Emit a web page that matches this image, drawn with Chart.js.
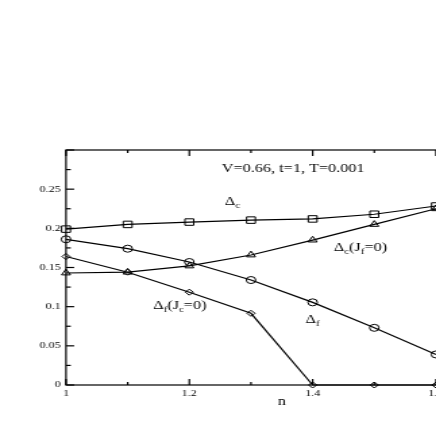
<!DOCTYPE html>
<html><head><meta charset="utf-8">
<script src="https://cdn.jsdelivr.net/npm/chart.js@4.4.1/dist/chart.umd.min.js"></script>
<style>
html,body{margin:0;padding:0;background:#fff;overflow:hidden;width:436px;height:436px;}
#wrap{position:absolute;left:0;top:0;transform:scaleX(1.35);transform-origin:0 0;}
canvas{display:block;}
</style></head><body>
<div id="wrap"><canvas id="c" width="385" height="436"></canvas></div>
<script>
const nValues   = [1.0, 1.1, 1.2, 1.3, 1.4, 1.5, 1.6];
const deltaC    = [0.199, 0.205, 0.208, 0.2105, 0.212, 0.218, 0.2285];
const deltaCJf0 = [0.143, 0.144, 0.152, 0.166, 0.185, 0.205, 0.225];
const deltaF    = [0.186, 0.174, 0.157, 0.134, 0.1055, 0.073, 0.039];
const deltaFJc0 = [0.164, 0.144, 0.1185, 0.0915, 0, 0, 0];
const xTickLabels = ['1', '', '1.2', '', '1.4', '', '1.6', ''];
const yTickLabels = ['0', '0.05', '0.1', '0.15', '0.2', '0.25', ''];
const titleText = 'V=0.66, t=1, T=0.001';

const SERIF = "'Liberation Serif', 'DejaVu Serif', serif";
const pts = arr => nValues.map((n, i) => ({x: n, y: arr[i]}));
function ds(arr, style, r) {
  return {data: pts(arr), pointStyle: style, pointRadius: r, pointHoverRadius: r,
    borderColor: '#000', borderWidth: 1.2, pointBorderColor: '#000', pointBorderWidth: 1,
    pointBackgroundColor: 'rgba(0,0,0,0)', showLine: true, tension: 0, fill: false, clip: false};
}

const notes = [
  {n: 1.2528, v: 0.2721, parts: [[titleText, 0]]},
  {n: 1.2577, v: 0.2302, parts: [['Δ', 0], ['c', 1]]},
  {n: 1.4344, v: 0.1709, parts: [['Δ', 0], ['c', 1], ['(J', 0], ['f', 1], ['=0)', 0]]},
  {n: 1.1415, v: 0.0966, parts: [['Δ', 0], ['f', 1], ['(J', 0], ['c', 1], ['=0)', 0]]},
  {n: 1.3884, v: 0.0787, parts: [['Δ', 0], ['f', 1]]}
];

const frame = {
  id: 'frame',
  afterDatasetsDraw(chart) {
    const {ctx, chartArea: a, scales: {x, y}} = chart;
    ctx.save();
    ctx.strokeStyle = '#000';
    ctx.lineWidth = 1.2;
    ctx.strokeRect(a.left, a.top, a.right - a.left, a.bottom - a.top);
    const line = (x1, y1, x2, y2) => { ctx.beginPath(); ctx.moveTo(x1, y1); ctx.lineTo(x2, y2); ctx.stroke(); };
    x.ticks.forEach((t, i) => {
      const px = x.getPixelForValue(t.value);
      const L = (i % 2 === 0) ? 6 : 3;
      line(px, a.bottom, px, a.bottom - L);
      line(px, a.top, px, a.top + L);
    });
    y.ticks.forEach((t, i) => {
      const py = y.getPixelForValue(t.value);
      line(a.left, py, a.left + 6, py);
      line(a.right, py, a.right - 6, py);
      if (i < y.ticks.length - 1) {
        const pm = (py + y.getPixelForValue(y.ticks[i + 1].value)) / 2;
        line(a.left, pm, a.left + 3.5, pm);
        line(a.right, pm, a.right - 3.5, pm);
      }
    });
    ctx.restore();
  },
  afterDraw(chart) {
    const {ctx, scales: {x, y}} = chart;
    ctx.save();
    ctx.fillStyle = '#000';
    ctx.textBaseline = 'alphabetic';
    ctx.textAlign = 'left';
    notes.forEach(nt => {
      let px = x.getPixelForValue(nt.n);
      const py = y.getPixelForValue(nt.v);
      nt.parts.forEach(([s, sub]) => {
        ctx.font = (sub ? '8px ' : '12px ') + SERIF;
        ctx.fillText(s, px, py + (sub ? 3 : 0));
        px += ctx.measureText(s).width;
      });
    });
    ctx.restore();
  }
};

new Chart(document.getElementById('c'), {
  type: 'scatter',
  data: {datasets: [
    ds(deltaC, 'rect', 4.6),
    ds(deltaCJf0, 'triangle', 3.8),
    ds(deltaF, 'circle', 3.5),
    ds(deltaFJc0, 'rectRot', 3)
  ]},
  options: {
    responsive: false, animation: false, devicePixelRatio: 1,
    layout: {padding: {top: 150, left: 0, right: 16.4, bottom: 0}},
    plugins: {legend: {display: false}, tooltip: {enabled: false}},
    scales: {
      x: {type: 'linear', min: 1, max: 1.7,
        grid: {display: false, drawTicks: false}, border: {display: false},
        ticks: {stepSize: 0.1, autoSkip: false, maxRotation: 0, padding: 3, color: '#000',
          font: {family: SERIF, size: 9}, callback: (v, i) => xTickLabels[i]},
        title: {display: true, text: 'n', color: '#000', font: {family: SERIF, size: 12}, padding: {top: 0, bottom: 27}},
        afterFit: s => { s.height = 51; }
      },
      y: {type: 'linear', min: 0, max: 0.3,
        grid: {display: false, drawTicks: false}, border: {display: false},
        ticks: {stepSize: 0.05, autoSkip: false, padding: 4, color: '#000',
          font: {family: SERIF, size: 9}, callback: (v, i) => yTickLabels[i]},
        afterFit: s => { s.width = 48.9; }
      }
    }
  },
  plugins: [frame]
});
</script>
</body></html>
